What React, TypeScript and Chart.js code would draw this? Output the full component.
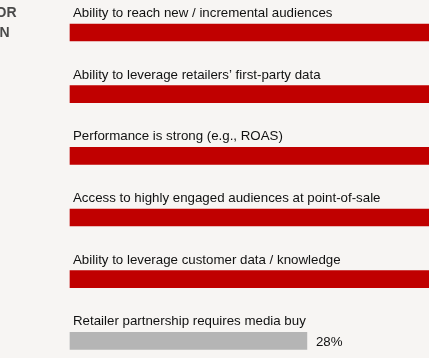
import React, { useEffect, useRef } from "react";
import { Chart, registerables } from "chart.js";

Chart.register(...registerables);

const categories = [
  "Ability to reach new / incremental audiences",
  "Ability to leverage retailers’ first-party data",
  "Performance is strong (e.g., ROAS)",
  "Access to highly engaged audiences at point-of-sale",
  "Ability to leverage customer data / knowledge",
  "Retailer partnership requires media buy",
];
const values = [62, 58, 55, 52, 50, 28];
const highlighted = [true, true, true, true, true, false];
const shownLabels = [false, false, false, false, false, true];
const titleLines = ["DECISION FACTOR", "CONSIDERATION"];

const RED = "#c00000";
const GRAY = "#b5b5b5";
const BG = "#f7f5f3";

export default function App() {
  const ref = useRef<HTMLCanvasElement | null>(null);

  useEffect(() => {
    if (!ref.current) return;
    const labelPlugin = {
      id: "rowLabels",
      beforeDraw(chart: any) {
        const ctx = chart.ctx;
        ctx.save();
        ctx.fillStyle = BG;
        ctx.fillRect(0, 0, chart.width, chart.height);
        ctx.restore();
      },
      afterDatasetsDraw(chart: any) {
        const ctx = chart.ctx;
        const meta = chart.getDatasetMeta(0);
        ctx.save();
        ctx.font = "13.3px 'Liberation Sans', Arial, sans-serif";
        ctx.fillStyle = "#111111";
        ctx.textAlign = "left";
        ctx.textBaseline = "alphabetic";
        meta.data.forEach((bar: any, i: number) => {
          const top = bar.y - bar.height / 2;
          ctx.fillText(categories[i], 73, top - 7);
          if (shownLabels[i]) {
            ctx.fillText(values[i] + "%", bar.x + 9, bar.y + 5);
          }
        });
        ctx.font = "bold 14px 'Liberation Sans', Arial, sans-serif";
        ctx.fillStyle = "#4a4a4a";
        ctx.textAlign = "right";
        ctx.fillText(titleLines[0], 16.5, 17);
        ctx.fillText(titleLines[1], 9.5, 36.5);
        ctx.restore();
      },
    };

    const chart = new Chart(ref.current, {
      type: "bar",
      data: {
        labels: categories,
        datasets: [
          {
            data: values,
            backgroundColor: highlighted.map((h) => (h ? RED : GRAY)),
            barThickness: 17,
            borderWidth: 0,
            clip: false as any,
          },
        ],
      },
      options: {
        indexAxis: "y",
        animation: false,
        responsive: true,
        maintainAspectRatio: false,
        layout: { padding: { left: 70, right: 0, top: 32.5, bottom: 17.2 } },
        plugins: { legend: { display: false }, tooltip: { enabled: false } },
        scales: {
          x: { display: false, min: 0, max: 42.43 },
          y: { display: false, offset: false, grid: { display: false } },
        },
      },
      plugins: [labelPlugin],
    });
    return () => chart.destroy();
  }, []);

  return (
    <div
      style={{
        position: "absolute",
        left: 0,
        top: 0,
        width: 429,
        height: 358,
        overflow: "hidden",
        background: BG,
      }}
    >
      <canvas ref={ref} />
    </div>
  );
}
